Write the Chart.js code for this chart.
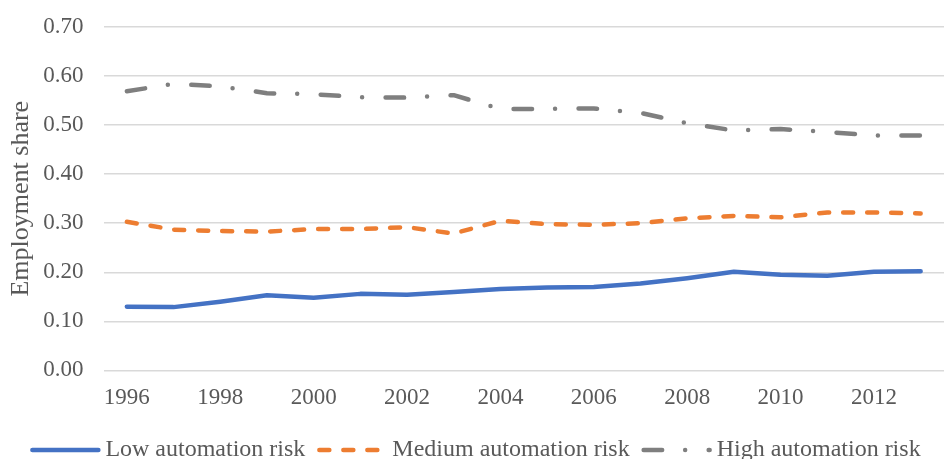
<!DOCTYPE html>
<html>
<head>
<meta charset="utf-8">
<script src="https://cdn.jsdelivr.net/npm/chart.js@4.4.1/dist/chart.umd.min.js"></script>
<style>
  html, body { margin: 0; padding: 0; background: #fff; }
  #wrap { width: 944px; height: 459px; position: relative; }
</style>
</head>
<body>
<div id="wrap"><canvas id="myChart"></canvas></div>
<script>
var years = ["1996","1997","1998","1999","2000","2001","2002","2003","2004","2005","2006","2007","2008","2009","2010","2011","2012","2013"];
var xTickLabels = ["1996","","1998","","2000","","2002","","2004","","2006","","2008","","2010","","2012",""];
var yTickLabels = ["0.00","0.10","0.20","0.30","0.40","0.50","0.60","0.70"];

var lowRisk = [0.130,0.129,0.140,0.153,0.148,0.156,0.154,0.160,0.166,0.169,0.170,0.177,0.188,0.201,0.195,0.193,0.201,0.202];
var mediumRisk = [0.303,0.287,0.284,0.283,0.288,0.288,0.292,0.279,0.305,0.298,0.297,0.300,0.310,0.315,0.312,0.322,0.322,0.320];
var highRisk = [0.569,0.584,0.579,0.565,0.563,0.557,0.556,0.561,0.533,0.533,0.534,0.525,0.504,0.489,0.492,0.486,0.479,0.479];

var textColor = "#595959";
var serif = "'Liberation Serif', 'Times New Roman', serif";
var sampleLength = 70;

// legend samples: chart.js does not dash point-style legend lines, so draw them here
var legendLines = {
  id: "legendLines",
  afterDraw: function(chart) {
    var legend = chart.legend;
    if (!legend || !legend.legendHitBoxes) return;
    var c = chart.ctx;
    legend.legendItems.forEach(function(item, i) {
      var box = legend.legendHitBoxes[i];
      var ds = chart.data.datasets[item.datasetIndex];
      var y = box.top + box.height / 2;
      c.save();
      c.strokeStyle = ds.borderColor;
      c.lineWidth = ds.borderWidth;
      c.lineCap = "round";
      c.setLineDash(ds.borderDash || []);
      c.beginPath();
      c.moveTo(box.left + 2, y);
      c.lineTo(box.left + sampleLength - 2, y);
      c.stroke();
      c.restore();
    });
  }
};

function getGraph() {

  var ctx = document.getElementById("myChart").getContext("2d");
  var chart = new Chart(ctx, {
    type: "line",
    data: {
      labels: years,
      datasets: [{
        label: "Low automation risk",
        data: lowRisk,
        borderColor: "#4472C4",
        backgroundColor: "#4472C4",
        borderWidth: 4.5,
        borderCapStyle: "round",
        borderJoinStyle: "round",
        pointRadius: 0,
        tension: 0
      }, {
        label: "Medium automation risk",
        data: mediumRisk,
        borderColor: "#ED7D31",
        backgroundColor: "#ED7D31",
        borderWidth: 4.5,
        borderDash: [10, 14],
        borderCapStyle: "round",
        borderJoinStyle: "round",
        pointRadius: 0,
        tension: 0
      }, {
        label: "High automation risk",
        data: highRisk,
        borderColor: "#7F7F7F",
        backgroundColor: "#7F7F7F",
        borderWidth: 4.5,
        borderDash: [18.5, 23, 0, 23.5],
        borderCapStyle: "round",
        borderJoinStyle: "round",
        pointRadius: 0,
        tension: 0
      }]
    },
    plugins: [legendLines],
    options: {
      responsive: true,
      maintainAspectRatio: false,
      animation: false,
      layout: { padding: { top: 27, right: -7, left: 0, bottom: -13 } },
      plugins: {
        tooltip: { enabled: false },
        legend: {
          position: "bottom",
          labels: {
            boxWidth: 63,
            boxHeight: 0,
            padding: 12,
            color: textColor,
            font: { family: serif, size: 24 },
            generateLabels: function(chart) {
              var items = Chart.defaults.plugins.legend.labels.generateLabels(chart);
              items.forEach(function(it) {
                it.fillStyle = "rgba(0,0,0,0)";
                it.strokeStyle = "rgba(0,0,0,0)";
                it.lineWidth = 0;
              });
              return items;
            }
          }
        }
      },
      scales: {
        x: {
          offset: true,
          grid: { display: false, drawTicks: false },
          border: { display: false },
          ticks: {
            autoSkip: false,
            maxRotation: 0,
            padding: 14,
            color: textColor,
            font: { family: serif, size: 23 },
            callback: function(v, i) { return xTickLabels[i]; }
          }
        },
        y: {
          min: 0,
          max: 0.7,
          afterFit: function(scale) { scale.width = 103.5; },
          grid: { color: "#D9D9D9", lineWidth: 1.5, drawTicks: true, tickLength: 20, tickColor: "rgba(0,0,0,0)" },
          border: { display: false },
          title: {
            display: true,
            text: "Employment share",
            color: textColor,
            font: { family: serif, size: 26 },
            padding: { top: 6, bottom: 0 }
          },
          ticks: {
            stepSize: 0.1,
            padding: 0,
            color: textColor,
            font: { family: serif, size: 23, lineHeight: 1 },
            callback: function(v, i) { return yTickLabels[i]; }
          }
        }
      }
    }
  });
}

getGraph();
</script>
</body>
</html>
